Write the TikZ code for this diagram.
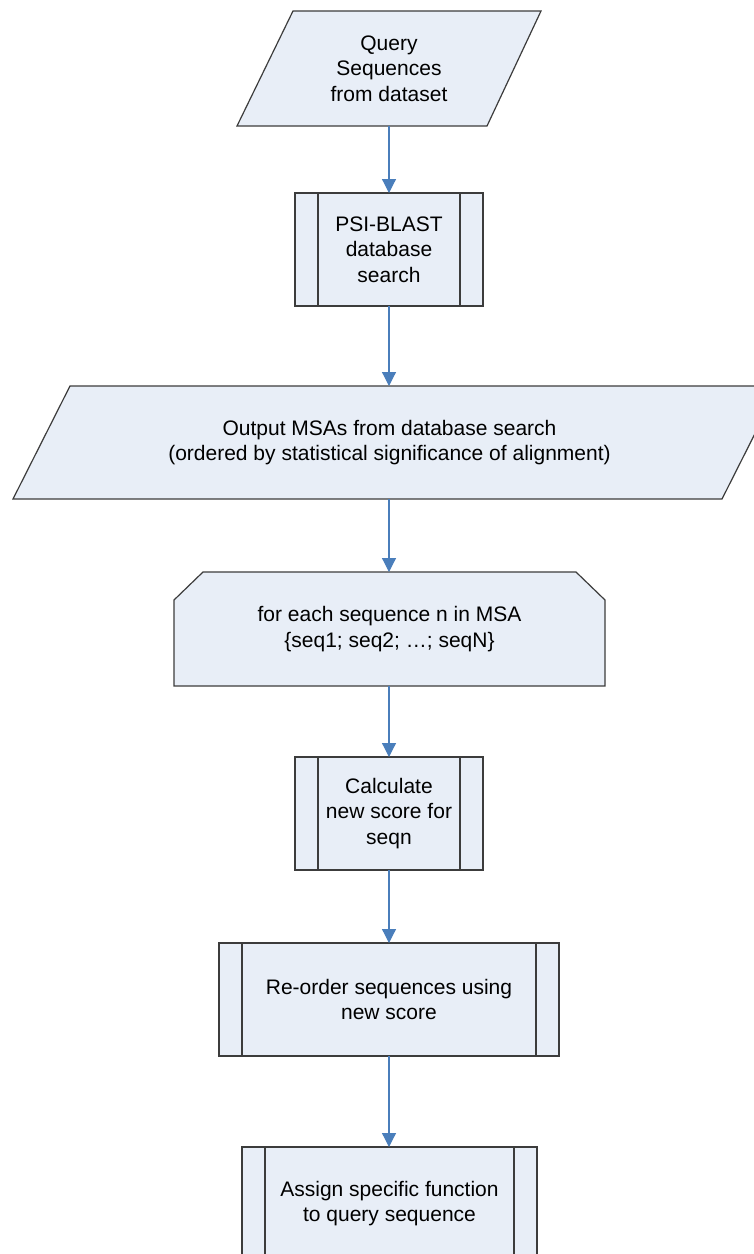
\documentclass[tikz,border=0pt]{standalone}
\usepackage{fontspec}
\setmainfont{Liberation Sans}
\usetikzlibrary{arrows.meta,backgrounds,calc}
\definecolor{boxfill}{HTML}{E8EEF7}
\definecolor{arrowblue}{HTML}{4A7EBB}
\definecolor{edgegray}{HTML}{3C3C3C}
\tikzset{
  lbl/.style={font=\fontsize{21}{25.5}\selectfont, align=center, inner sep=0pt, outer sep=0pt},
  outline/.style={draw=edgegray, line width=1.2pt, fill=boxfill, line join=miter},
  innerline/.style={draw=edgegray, line width=1.2pt},
  predef/.style={lbl, outline, minimum width=#1},
  conn/.style={draw=arrowblue, line width=1.2pt, -{Triangle[length=14pt,width=14pt]}}
}
\begin{document}
\begin{tikzpicture}[x=1pt,y=-1pt]
\useasboundingbox (0,0) rectangle (754,1254);
\clip (0,0) rectangle (754,1254);

% Query parallelogram
\node[lbl, minimum width=304pt, minimum height=115pt] (query) at (389,68.5) {Query\\Sequences\\from dataset};
% PSI-BLAST
\node[predef=188pt, minimum height=113pt] (psi) at (389,249.5) {PSI-BLAST\\database\\search};
% MSA parallelogram
\node[lbl, minimum width=753pt, minimum height=113pt] (msa) at (389.5,442.5) {Output MSAs from database search\\(ordered by statistical significance of alignment)};
% loop limit
\node[lbl, minimum width=431pt, minimum height=114pt] (loop) at (389.5,629) {for each sequence n in MSA\\\{seq1; seq2; \dots; seqN\}};
% calculate
\node[predef=188pt, minimum height=113pt] (calc) at (389,813.5) {Calculate\\new score for\\seqn};
% reorder
\node[predef=340pt, minimum height=113pt] (reorder) at (389,999.5) {Re-order sequences using\\new score};
% assign
\node[predef=295pt, minimum height=113pt] (assign) at (389.5,1203.5) {Assign specific function\\to query sequence};

\begin{pgfonlayer}{background}
  \fill[white] (0,0) rectangle (754,1254);
  \draw[outline] (query.south west) -- ([xshift=56pt]query.north west) -- (query.north east) -- ([xshift=-54pt]query.south east) -- cycle;
  \draw[outline] (msa.south west) -- ([xshift=57pt]msa.north west) -- ([xshift=13pt]msa.north east) -- ([xshift=-44pt]msa.south east) -- cycle;
  \draw[outline] (loop.south west) -- ([yshift=-28pt]loop.north west) -- ([xshift=29pt]loop.north west) -- ([xshift=-29pt]loop.north east) -- ([yshift=-28pt]loop.north east) -- (loop.south east) -- cycle;
\end{pgfonlayer}

% inner lines of predefined-process boxes
\foreach \n in {psi,calc,reorder,assign}{
  \draw[innerline] ([xshift=23pt]\n.north west) -- ([xshift=23pt]\n.south west);
  \draw[innerline] ([xshift=-23pt]\n.north east) -- ([xshift=-23pt]\n.south east);
}

% connectors
\draw[conn] (query.south) -- (psi.north);
\draw[conn] (psi.south) -- (msa.north -| psi.south);
\draw[conn] (msa.south -| psi.south) -- (loop.north -| psi.south);
\draw[conn] (loop.south -| psi.south) -- (calc.north);
\draw[conn] (calc.south) -- (reorder.north);
\draw[conn] (reorder.south) -- (assign.north -| reorder.south);
\end{tikzpicture}
\end{document}
